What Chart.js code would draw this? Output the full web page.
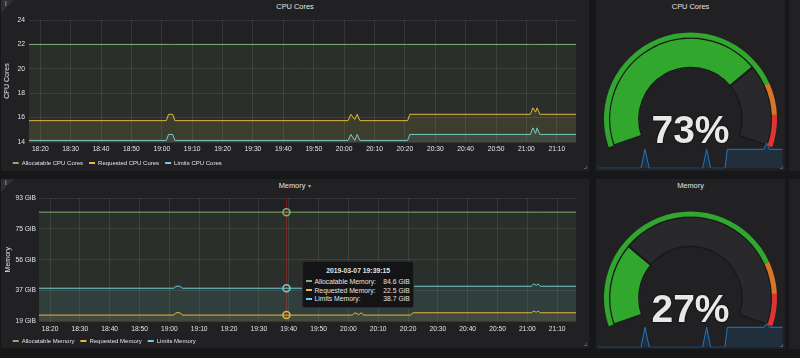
<!DOCTYPE html>
<html>
<head>
<meta charset="utf-8">
<script src="https://cdn.jsdelivr.net/npm/chart.js@4.4.1/dist/chart.umd.min.js"></script>
<style>
  html, body { margin: 0; padding: 0; background: #161719; }
  body { width: 800px; height: 358px; position: relative; overflow: hidden; font-family: 'Liberation Sans', Arial, sans-serif; }
  .panel { position: absolute; background: #212124; }
  .title { position: absolute; left: 0; right: 0; top: 2px; line-height: 9px; text-align: center; color: #e2e3e4; font-size: 7.4px; }
  .caret { font-size: 6px; margin-left: 3px; color: #b0b0b0; }
  .corner { position: absolute; left: 0; top: 0; width: 0; height: 0; border-top: 13px solid #303034; border-right: 13px solid transparent; }
  .corner-i { position: absolute; left: 4px; top: 0; font-size: 6.5px; line-height: 8px; color: #c8c8c8; }
  .handle { position: absolute; right: 2px; bottom: 2px; width: 2px; height: 2px; border-right: 1px solid #56565a; border-bottom: 1px solid #56565a; }
  canvas { position: absolute; }
  .gval { position: absolute; left: 596px; width: 189px; text-align: center; font-size: 39px; line-height: 39px; font-weight: bold; color: #e8e8e8; text-shadow: 0 0 1px #000, 0 0 2px #000; }
  #memTip { position: absolute; display: none; box-sizing: border-box; width: 111.6px; height: 47.3px; padding: 5px 3.3px 0 3px; background: #141416; border: 1px solid #2a2a2d; border-radius: 3px; color: #e2e3e4; font-size: 6.8px; }
  .tt-title { text-align: center; font-weight: bold; line-height: 8px; margin-bottom: 2.3px; }
  .tt-row { display: flex; align-items: center; height: 8.7px; }
  .tt-dash { width: 5.3px; height: 2px; margin-right: 2.7px; }
  .tt-label { flex: 1; }
  .tt-val { text-align: right; }
</style>
</head>
<body>
<div class="panel" style="left:1px;top:0;width:588px;height:171px">
  <div class="corner"></div><div class="corner-i">i</div>
  <div class="title">CPU Cores</div>
  <div class="handle"></div>
</div>
<div class="panel" style="left:596px;top:0;width:189px;height:171px">
  <div class="title">CPU Cores</div>
  <div class="handle"></div>
</div>
<div class="panel" style="left:789px;top:0;width:20px;height:171px"></div>
<div class="panel" style="left:1px;top:179px;width:588px;height:169px">
  <div class="corner"></div><div class="corner-i">i</div>
  <div class="title">Memory<span class="caret">&#9662;</span></div>
  <div class="handle"></div>
</div>
<div class="panel" style="left:596px;top:179px;width:189px;height:170px">
  <div class="title">Memory</div>
  <div class="handle"></div>
</div>
<div class="panel" style="left:789px;top:179px;width:20px;height:170px"></div>

<canvas id="cpuChart" width="588" height="165" style="left:1px;top:12px"></canvas>
<canvas id="memChart" width="588" height="165" style="left:1px;top:190px"></canvas>
<canvas id="cpuGauge" width="189" height="171" style="left:596px;top:0"></canvas>
<canvas id="cpuSpark" width="187" height="28" style="left:597px;top:142px"></canvas>
<canvas id="memGauge" width="189" height="170" style="left:596px;top:179px"></canvas>
<canvas id="memSpark" width="187" height="28" style="left:597px;top:322px"></canvas>
<div id="cpuVal" class="gval" style="top:110px"></div>
<div id="memVal" class="gval" style="top:289px"></div>
<div id="memTip"></div>

<script>
// 時刻は 18:00 からの分
var xMin = 16.3;
var xMax = 196.3;
var xTicks = [20, 30, 40, 50, 60, 70, 80, 90, 100, 110, 120, 130, 140, 150, 160, 170, 180, 190];
var times = [16.3, 61.5, 62.2, 63.6, 64.3, 99.25, 121.3, 122.2, 123.5, 124.3, 125.2, 140.9, 141.6, 181.3, 182.1, 183.0, 183.5, 184.4, 196.3];

// CPU Cores
var cpuTicks = [14, 16, 18, 20, 22, 24];
var cpuAllocatable = [22, 22, 22, 22, 22, 22, 22, 22, 22, 22, 22, 22, 22, 22, 22, 22, 22, 22, 22];
var cpuRequested = [15.75, 15.75, 16.27, 16.27, 15.75, 15.75, 15.75, 16.27, 15.85, 16.27, 15.75, 15.75, 16.27, 16.27, 16.8, 16.45, 16.8, 16.27, 16.27];
var cpuLimits = [14.13, 14.13, 14.62, 14.62, 14.13, 14.13, 14.13, 14.62, 14.13, 14.62, 14.13, 14.13, 14.62, 14.62, 15.16, 14.7, 15.16, 14.62, 14.62];

// Memory (GiB)
var memTicks = [18.625, 37.25, 55.875, 74.5, 93.125];
var memAllocatable = [84.6, 84.6, 84.6, 84.6, 84.6, 84.6, 84.6, 84.6, 84.6, 84.6, 84.6, 84.6, 84.6, 84.6, 84.6, 84.6, 84.6, 84.6, 84.6];
var memRequested = [22.5, 22.5, 23.9, 23.9, 22.5, 22.5, 22.5, 23.9, 22.8, 23.9, 22.5, 22.5, 23.9, 23.9, 24.9, 24.2, 24.9, 23.9, 23.9];
var memLimits = [38.7, 38.7, 39.9, 39.9, 38.7, 38.7, 38.7, 39.9, 38.9, 39.9, 38.7, 38.7, 39.9, 39.9, 41.3, 40.4, 41.3, 39.9, 39.9];

// ツールチップ
var tipDate = '2019-03-07';
var tipTime = 99.25;

// ゲージ
var gaugeMax = 100;
var gaugeThresholds = [80, 90];
var cpuGaugeValue = 73;
var memGaugeValue = 27;
var sparkTimes = [16.3, 58.4, 62.3, 66.5, 118.4, 122.3, 126.2, 140.1, 142.4, 178.1, 180.7, 183.3, 196.3];
var cpuSpark = [71.5, 71.5, 73.0, 71.5, 71.5, 73.0, 71.5, 71.5, 73.0, 73.0, 73.5, 73.0, 73.0];
var memSpark = [26.0, 26.0, 27.0, 26.0, 26.0, 27.0, 26.0, 26.0, 27.0, 27.0, 27.2, 27.0, 27.0];

var green = 'rgba(50, 172, 45, 0.97)';
var orange = 'rgba(237, 129, 40, 0.89)';
var red = 'rgba(245, 54, 54, 0.9)';
var gridColor = 'rgba(255, 255, 255, 0.09)';

Chart.defaults.font.family = "'Liberation Sans', Arial, sans-serif";
Chart.defaults.color = '#e2e3e4';

function pad2(n) { return (n < 10 ? '0' : '') + n; }

function fmtTime(v, withSec) {
    var h = 18 + Math.floor(v / 60);
    var m = Math.floor(v % 60);
    var s = Math.round((v - Math.floor(v)) * 60);
    var str = h + ':' + pad2(m);
    if (withSec) str += ':' + pad2(s);
    return str;
}

function toPoints(xs, values) {
    return xs.map(function(t, i) { return { x: t, y: values[i] }; });
}

function lineDataset(label, values, color, fillColor) {
    return {
        label: label,
        data: toPoints(times, values),
        borderColor: color,
        backgroundColor: fillColor,
        borderWidth: 1,
        fill: 'start',
        tension: 0,
        pointRadius: 0,
        pointHoverRadius: 3.5,
        pointHoverBorderWidth: 1.5,
        pointHoverBorderColor: color,
        pointHoverBackgroundColor: 'rgba(0,0,0,0)'
    };
}

function lineOptions(cfg) {
    return {
        responsive: false,
        animation: false,
        events: [],
        layout: { padding: { left: 5.7, right: 13, top: cfg.padTop, bottom: 1 } },
        interaction: { mode: 'index', intersect: false },
        scales: {
            x: {
                type: 'linear',
                min: xMin,
                max: xMax,
                afterBuildTicks: function(s) { s.ticks = xTicks.map(function(v) { return { value: v }; }); },
                afterFit: function(s) { s.height = cfg.xHeight; },
                grid: { color: gridColor, drawTicks: false },
                border: { display: false },
                ticks: { padding: 3.6, maxRotation: 0, autoSkip: false, font: { size: 6.7 },
                         callback: function(v) { return fmtTime(v); } }
            },
            y: {
                min: cfg.yTicks[0],
                max: cfg.yTicks[cfg.yTicks.length - 1],
                afterBuildTicks: function(s) { s.ticks = cfg.yTicks.map(function(v) { return { value: v }; }); },
                afterFit: function(s) { s.width = cfg.yWidth; },
                grid: { color: gridColor, drawTicks: false },
                border: { display: false },
                ticks: { padding: cfg.yPad, font: { size: 6.7 }, callback: cfg.yFmt },
                title: { display: true, text: cfg.yTitle, color: '#e2e3e4', font: { size: 7 },
                         padding: { top: cfg.titlePad, bottom: 0 } }
            }
        },
        plugins: {
            legend: {
                position: 'bottom',
                align: 'start',
                labels: {
                    boxWidth: 6, boxHeight: 2, padding: 6, font: { size: 6 }, color: '#e2e3e4',
                    generateLabels: function(chart) {
                        var items = Chart.defaults.plugins.legend.labels.generateLabels(chart);
                        items.forEach(function(it) { it.fillStyle = it.strokeStyle; it.lineWidth = 0; });
                        return items;
                    }
                }
            },
            tooltip: { enabled: false, external: cfg.external }
        }
    };
}

// CPU グラフ
new Chart(document.getElementById('cpuChart'), {
    type: 'line',
    data: {
        datasets: [
            lineDataset('Allocatable CPU Cores', cpuAllocatable, '#7eb26d', 'rgba(126,178,109,0.1)'),
            lineDataset('Requested CPU Cores', cpuRequested, '#eab839', 'rgba(234,184,57,0.1)'),
            lineDataset('Limits CPU Cores', cpuLimits, '#6ed0e0', 'rgba(110,208,224,0.1)')
        ]
    },
    options: lineOptions({
        padTop: 7, xHeight: 12, yWidth: 22.3, yPad: 4, titlePad: -3.6,
        yTicks: cpuTicks, yTitle: 'CPU Cores',
        yFmt: function(v) { return v; }
    })
});

// Memory グラフのツールチップ (HTML)
function memTooltip(context) {
    var tip = context.tooltip;
    var el = document.getElementById('memTip');
    if (tip.opacity === 0 || !tip.dataPoints || !tip.dataPoints.length) {
        el.style.display = 'none';
        return;
    }
    var html = '<div class="tt-title">' + tipDate + ' ' + fmtTime(tip.dataPoints[0].parsed.x, true) + '</div>';
    tip.dataPoints.forEach(function(dp) {
        html += '<div class="tt-row"><span class="tt-dash" style="background:' + dp.dataset.borderColor + '"></span>' +
                '<span class="tt-label">' + dp.dataset.label + ':</span>' +
                '<span class="tt-val">' + dp.parsed.y.toFixed(1) + ' GiB</span></div>';
    });
    el.innerHTML = html;
    var canvas = context.chart.canvas;
    el.style.left = (canvas.offsetLeft + tip.caretX + 16) + 'px';
    el.style.top = (canvas.offsetTop + tip.caretY - 11) + 'px';
    el.style.display = 'block';
}

// 縦のクロスヘア
var crosshair = {
    id: 'crosshair',
    beforeDatasetsDraw: function(chart) {
        var act = chart.getActiveElements();
        if (!act.length) return;
        var x = Math.round(act[0].element.x) + 0.5;
        var a = chart.chartArea;
        var ctx = chart.ctx;
        ctx.save();
        ctx.strokeStyle = '#741c1c';
        ctx.lineWidth = 1;
        ctx.beginPath();
        ctx.moveTo(x, a.top);
        ctx.lineTo(x, a.bottom);
        ctx.stroke();
        ctx.restore();
    }
};

var memChart = new Chart(document.getElementById('memChart'), {
    type: 'line',
    data: {
        datasets: [
            lineDataset('Allocatable Memory', memAllocatable, '#7eb26d', 'rgba(126,178,109,0.1)'),
            lineDataset('Requested Memory', memRequested, '#eab839', 'rgba(234,184,57,0.1)'),
            lineDataset('Limits Memory', memLimits, '#6ed0e0', 'rgba(110,208,224,0.1)')
        ]
    },
    options: lineOptions({
        padTop: 8, xHeight: 10.5, yWidth: 32.3, yPad: 3, titlePad: -2.6,
        yTicks: memTicks, yTitle: 'Memory',
        yFmt: function(v) { return Math.round(v) + ' GiB'; },
        external: memTooltip
    }),
    plugins: [crosshair]
});

var tipIndex = times.indexOf(tipTime);
var active = [0, 1, 2].map(function(d) { return { datasetIndex: d, index: tipIndex }; });
memChart.setActiveElements(active);
memChart.tooltip.setActiveElements(active, { x: 0, y: 0 });
memChart.update();

// ゲージ
function gaugeChart(id, value, padTop) {
    var segs = [];
    var prev = 0;
    gaugeThresholds.concat([gaugeMax]).forEach(function(t) { segs.push(t - prev); prev = t; });
    return new Chart(document.getElementById(id), {
        type: 'doughnut',
        data: {
            datasets: [
                { data: segs, backgroundColor: [green, orange, red], borderWidth: 0, weight: 5 },
                { data: [value, gaugeMax - value], backgroundColor: [green, '#29292c'],
                  borderWidth: 1, borderColor: '#18181a', borderAlign: 'inner', weight: 30.5 }
            ]
        },
        options: {
            responsive: false,
            animation: false,
            events: [],
            rotation: -109,
            circumference: 218,
            radius: 86.5,
            cutout: '58.96%',
            layout: { padding: { top: padTop } },
            plugins: { legend: { display: false }, tooltip: { enabled: false } }
        }
    });
}

function sparkChart(id, values, pad) {
    return new Chart(document.getElementById(id), {
        type: 'line',
        data: {
            datasets: [{
                data: toPoints(sparkTimes, values),
                borderColor: '#1f78c1',
                borderWidth: 1,
                backgroundColor: 'rgba(31,120,193,0.15)',
                fill: 'start',
                tension: 0,
                pointRadius: 0
            }]
        },
        options: {
            responsive: false,
            animation: false,
            events: [],
            layout: { padding: pad },
            scales: {
                x: { type: 'linear', min: xMin, max: xMax, display: false },
                y: { display: false, min: Math.min.apply(null, values), max: Math.max.apply(null, values) }
            },
            plugins: { legend: { display: false }, tooltip: { enabled: false } }
        }
    });
}

gaugeChart('cpuGauge', cpuGaugeValue, 8.7);
gaugeChart('memGauge', memGaugeValue, 9.7);
sparkChart('cpuSpark', cpuSpark, { left: 0.7, right: 1.3, top: 1, bottom: 1.7 });
sparkChart('memSpark', memSpark, { left: 0.7, right: 1.3, top: 1.3, bottom: 2.7 });
document.getElementById('cpuVal').textContent = cpuGaugeValue + '%';
document.getElementById('memVal').textContent = memGaugeValue + '%';
</script>
</body>
</html>
